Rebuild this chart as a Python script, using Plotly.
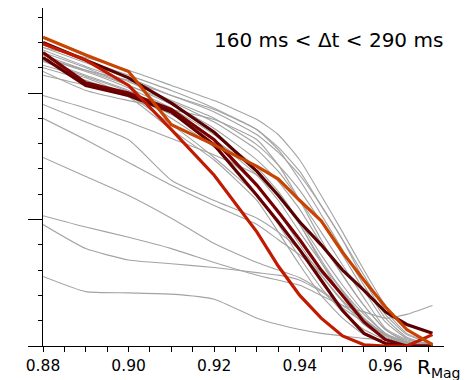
import plotly.graph_objects as go

# R_Mag sample positions
r_mag = [0.88, 0.89, 0.90, 0.91, 0.92, 0.93, 0.935, 0.94, 0.945, 0.95, 0.955, 0.96, 0.965, 0.971]

# grey curves (one list per curve)
grey_b1 = [2.38, 2.26, 2.14, 2.02, 1.88, 1.71, 1.57, 1.38, 1.11, 0.84, 0.52, 0.25, 0.09, 0.02]
grey_b2 = [2.36, 2.24, 2.12, 1.98, 1.85, 1.67, 1.53, 1.35, 1.11, 0.84, 0.56, 0.28, 0.10, 0.02]
grey_b3 = [2.34, 2.21, 2.09, 1.94, 1.80, 1.59, 1.43, 1.23, 0.98, 0.72, 0.44, 0.19, 0.06, 0.01]
grey_b4 = [2.32, 2.20, 2.06, 1.93, 1.77, 1.55, 1.38, 1.15, 0.90, 0.64, 0.38, 0.14, 0.05, 0.01]
grey_b5 = [2.30, 2.18, 2.06, 1.91, 1.72, 1.47, 1.30, 1.08, 0.81, 0.56, 0.32, 0.13, 0.04, 0.00]
grey_b6 = [2.28, 2.17, 2.04, 1.88, 1.67, 1.41, 1.22, 0.98, 0.72, 0.48, 0.27, 0.10, 0.03, 0.00]
grey_b7 = [2.26, 2.14, 2.02, 1.85, 1.63, 1.35, 1.15, 0.90, 0.66, 0.43, 0.22, 0.08, 0.02, 0.00]
grey_b8 = [2.25, 2.13, 2.01, 1.80, 1.57, 1.27, 1.06, 0.80, 0.56, 0.35, 0.17, 0.06, 0.02, 0.00]
grey_b9 = [2.22, 2.12, 1.98, 1.75, 1.49, 1.19, 0.96, 0.70, 0.46, 0.27, 0.13, 0.05, 0.01, 0.00]
grey_b10 = [2.28, 2.18, 2.10, 1.98, 1.87, 1.71, 1.55, 1.31, 1.04, 0.76, 0.48, 0.22, 0.07, 0.01]
grey_b11 = [2.20, 2.10, 1.97, 1.71, 1.47, 1.15, 0.90, 0.64, 0.40, 0.22, 0.09, 0.03, 0.01, 0.00]
grey_b12 = [2.36, 2.28, 2.18, 2.06, 1.94, 1.79, 1.67, 1.47, 1.19, 0.90, 0.60, 0.32, 0.13, 0.02]
grey_b13 = [2.17, 2.02, 1.94, 1.87, 1.79, 1.63, 1.43, 1.15, 0.84, 0.56, 0.32, 0.13, 0.03, 0.00]
grey_b14 = [2.14, 2.06, 1.97, 1.83, 1.63, 1.38, 1.19, 0.96, 0.66, 0.40, 0.21, 0.07, 0.02, 0.00]
grey_l1 = [1.98, 1.88, 1.77, 1.64, 1.51, 1.35, 1.19, 0.96, 0.68, 0.44, 0.25, 0.10, 0.03, 0.00]
grey_l2 = [1.91, 1.77, 1.63, 1.31, 1.15, 1.01, 0.90, 0.76, 0.58, 0.40, 0.22, 0.09, 0.02, 0.00]
grey_l3 = [1.80, 1.63, 1.45, 1.27, 1.11, 0.96, 0.84, 0.72, 0.56, 0.36, 0.21, 0.09, 0.02, 0.00]
grey_l4 = [1.49, 1.34, 1.19, 1.01, 0.81, 0.66, 0.60, 0.54, 0.44, 0.32, 0.21, 0.09, 0.03, 0.00]
grey_l5 = [1.03, 0.94, 0.86, 0.77, 0.66, 0.56, 0.52, 0.48, 0.40, 0.32, 0.27, 0.22, 0.25, 0.32]
grey_l6 = [0.96, 0.77, 0.68, 0.65, 0.62, 0.58, 0.56, 0.52, 0.43, 0.30, 0.19, 0.09, 0.03, 0.00]
grey_l7 = [0.55, 0.43, 0.42, 0.41, 0.37, 0.22, 0.17, 0.13, 0.10, 0.08, 0.06, 0.05, 0.03, 0.02]

grey_curves = [grey_b1, grey_b2, grey_b3, grey_b4, grey_b5, grey_b6, grey_b7, grey_b8,
               grey_b9, grey_b10, grey_b11, grey_b12, grey_b13, grey_b14,
               grey_l1, grey_l2, grey_l3, grey_l4, grey_l5, grey_l6, grey_l7]

# highlighted curves
dark_1 = [2.40, 2.26, 2.12, 1.92, 1.69, 1.38, 1.19, 0.98, 0.80, 0.60, 0.44, 0.27, 0.17, 0.10]
dark_2 = [2.32, 2.08, 2.00, 1.87, 1.63, 1.27, 1.06, 0.84, 0.60, 0.40, 0.19, 0.05, 0.00, 0.00]
dark_3 = [2.28, 2.06, 1.98, 1.85, 1.59, 1.19, 0.98, 0.76, 0.52, 0.28, 0.10, 0.02, 0.00, 0.00]
red_curve = [2.39, 2.26, 2.06, 1.71, 1.35, 0.90, 0.63, 0.40, 0.22, 0.08, 0.01, 0.00, 0.00, 0.09]
orange_curve = [2.44, 2.30, 2.17, 1.75, 1.59, 1.42, 1.32, 1.15, 0.99, 0.74, 0.52, 0.31, 0.13, 0.01]

colored = [
    (dark_1, "#5a0000"),
    (dark_2, "#780000"),
    (dark_3, "#660000"),
    (red_curve, "#c21a00"),
    (orange_curve, "#c84400"),
]

x_ticks = [0.88, 0.90, 0.92, 0.94, 0.96]
x_ticklabels = ["0.88", "0.90", "0.92", "0.94", "0.96"]
y_major = [0, 1, 2]

fig = go.Figure()
for ys in grey_curves:
    fig.add_trace(go.Scatter(x=r_mag, y=ys, mode="lines",
                             line=dict(color="#a3a3a3", width=1.1, shape="spline", smoothing=0.5),
                             hoverinfo="skip", showlegend=False))
for ys, col in colored:
    fig.add_trace(go.Scatter(x=r_mag, y=ys, mode="lines",
                             line=dict(color=col, width=3.2),
                             hoverinfo="skip", showlegend=False))

fig.update_layout(
    width=463, height=372,
    margin=dict(l=35, r=27, t=0, b=34),
    paper_bgcolor="white", plot_bgcolor="white",
    font=dict(family="DejaVu Sans", color="black"),
    showlegend=False,
    xaxis=dict(range=[0.88, 0.9737], tickmode="array", tickvals=x_ticks, ticktext=x_ticklabels,
               ticks="outside", ticklen=5, tickwidth=1, tickcolor="black",
               tickfont=dict(size=15.5, family="DejaVu Sans", color="black"),
               showline=True, linecolor="black", linewidth=1.3, showgrid=False, zeroline=False,
               automargin=False,
               minor=dict(tick0=0.88, dtick=0.005, ticks="outside", ticklen=5, tickwidth=1,
                          tickcolor="black", showgrid=False)),
    yaxis=dict(range=[0, 2.672], tickmode="array", tickvals=y_major, showticklabels=False,
               ticks="outside", ticklen=14, tickwidth=1.3, tickcolor="black",
               showline=True, linecolor="black", linewidth=1.3, showgrid=False, zeroline=False,
               automargin=False,
               minor=dict(tick0=0, dtick=0.2, ticks="outside", ticklen=4, tickwidth=1,
                          tickcolor="black", showgrid=False)),
    annotations=[
        dict(text="160 ms < Δt < 290 ms", xref="paper", yref="paper", x=0.713, y=0.905,
             xanchor="center", yanchor="middle", showarrow=False,
             font=dict(size=20, family="DejaVu Sans", color="black")),
        dict(text="R<sub>Mag</sub>", xref="paper", yref="paper", x=0.928, y=-0.065,
             xanchor="left", yanchor="middle", showarrow=False,
             font=dict(size=20, family="DejaVu Sans", color="black")),
    ],
)

fig.write_html("out.html")
